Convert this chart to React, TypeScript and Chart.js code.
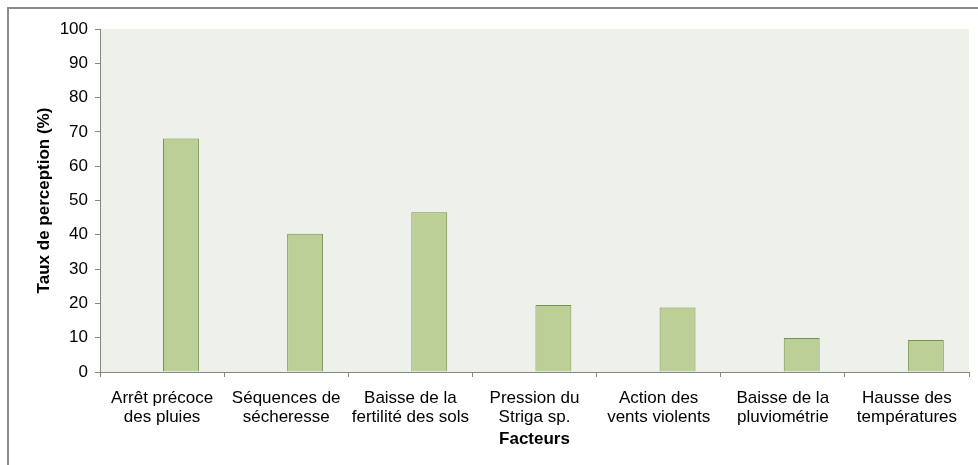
import React, { useEffect, useRef } from "react";
import { Chart, registerables } from "chart.js";

Chart.register(...registerables);

const categories: string[][] = [
  ["Arrêt précoce", "des pluies"],
  ["Séquences de", "sécheresse"],
  ["Baisse de la", "fertilité des sols"],
  ["Pression du", "Striga sp."],
  ["Action des", "vents violents"],
  ["Baisse de la", "pluviométrie"],
  ["Hausse des", "températures"],
];

const perceptionRates: number[] = [68.1, 40.3, 46.6, 19.5, 18.8, 9.9, 9.3];

const yTicks: number[] = [0, 10, 20, 30, 40, 50, 60, 70, 80, 90, 100];

const FONT = "'Liberation Sans', Arial, sans-serif";

const plotBackground = {
  id: "plotBackground",
  beforeDraw(chart: any) {
    const { ctx, chartArea } = chart;
    ctx.save();
    ctx.fillStyle = "#eef1e9";
    ctx.fillRect(chartArea.left, chartArea.top, chartArea.right - chartArea.left, chartArea.bottom - chartArea.top);
    ctx.restore();
  },
};

export default function App() {
  const canvasRef = useRef<HTMLCanvasElement | null>(null);

  useEffect(() => {
    if (!canvasRef.current) return;
    const chart = new Chart(canvasRef.current, {
      type: "bar",
      data: {
        labels: categories,
        datasets: [
          {
            label: "",
            data: [],
          },
          {
            label: "Taux de perception (%)",
            data: perceptionRates,
            backgroundColor: "#bccf97",
            borderColor: "#76924a",
            borderWidth: 1,
          },
        ],
      },
      options: {
        responsive: false,
        animation: false,
        datasets: {
          bar: {
            categoryPercentage: 0.609,
            barPercentage: 0.95,
          },
        },
        layout: { padding: { top: 20, right: 9, bottom: 0, left: 0 } },
        plugins: {
          legend: { display: false },
          tooltip: { enabled: false },
        },
        scales: {
          x: {
            afterFit(scale: any) {
              scale.height = 93;
            },
            border: { display: true, color: "#868686", width: 1 },
            grid: {
              display: true,
              drawOnChartArea: false,
              drawTicks: true,
              tickLength: 5,
              color: "#868686",
              offset: true,
            },
            ticks: {
              autoSkip: false,
              maxRotation: 0,
              minRotation: 0,
              padding: 12,
              color: "#000",
              font: { family: FONT, size: 17, lineHeight: 1.12 },
            },
            title: {
              display: true,
              text: "Facteurs",
              color: "#000",
              font: { family: FONT, size: 17, weight: "bold", lineHeight: 1.2 },
              padding: { top: 0, bottom: 15 },
            },
          },
          y: {
            min: 0,
            max: 100,
            afterFit(scale: any) {
              scale.width = 91;
            },
            afterBuildTicks(scale: any) {
              scale.ticks = yTicks.map((v) => ({ value: v }));
            },
            border: { display: true, color: "#868686", width: 1 },
            grid: {
              display: true,
              drawOnChartArea: false,
              drawTicks: true,
              tickLength: 5,
              color: "#868686",
            },
            ticks: {
              padding: 7,
              color: "#000",
              font: { family: FONT, size: 17 },
            },
            title: {
              display: true,
              text: "Taux de perception (%)",
              color: "#000",
              font: { family: FONT, size: 17, weight: "bold", lineHeight: 1.2 },
              padding: { top: 25.5, bottom: 0 },
            },
          },
        },
      },
      plugins: [plotBackground],
    });
    return () => chart.destroy();
  }, []);

  return (
    <div
      style={{
        position: "fixed",
        left: 7,
        top: 7,
        width: 971,
        height: 458,
        boxSizing: "border-box",
        borderTop: "2px solid #8c8c8c",
        borderLeft: "2px solid #8c8c8c",
        background: "#fff",
      }}
    >
      <canvas ref={canvasRef} width={969} height={456} style={{ display: "block" }} />
    </div>
  );
}
